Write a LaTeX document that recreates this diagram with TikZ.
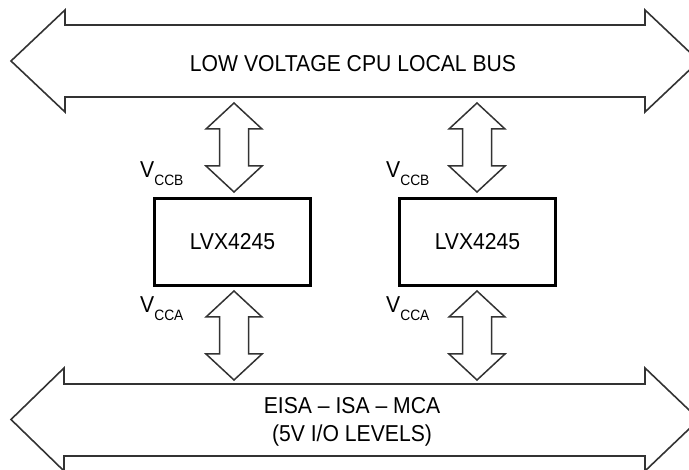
\documentclass[tikz,border=0pt]{standalone}
\usepackage{fontspec}
\setmainfont{Liberation Sans}[FakeStretch=0.92]
\begin{document}
\begin{tikzpicture}[x=1pt,y=-1pt,
  busline/.style={draw=black!80,line width=1.6pt,line join=miter},
  chip/.style={draw=black,line width=3pt,minimum width=156pt,minimum height=87pt,inner sep=0pt,font=\fontsize{23}{23}\selectfont},
  bustext/.style={inner sep=0pt,align=center,font=\fontsize{23}{28}\selectfont},
  vlabel/.style={inner sep=0pt,anchor=base west,font=\fontsize{23}{23}\selectfont},
  pics/dbl/.style={code={
    \draw[busline,line width=1.5pt] (0,0) -- (28,26) -- (14.5,26) -- (14.5,63) -- (28,63) -- (0,89)
      -- (-28,63) -- (-14.5,63) -- (-14.5,26) -- (-28,26) -- cycle;}}
]
\useasboundingbox (0,0) rectangle (689,470);
% top bus
\draw[busline] (11,61) -- (65,10) -- (65,25) -- (645,25) -- (645,10) -- (699,61)
  -- (645,112) -- (645,97) -- (65,97) -- (65,112) -- cycle;
\node[bustext] (topbus) at (353,64) {LOW VOLTAGE CPU LOCAL BUS};
% bottom bus
\draw[busline] (11,419.5) -- (64,368) -- (64,384) -- (645,384) -- (645,368) -- (699,419.5)
  -- (645,471) -- (645,456) -- (64,456) -- (64,471) -- cycle;
\node[bustext] (botbus) at (352,422) {EISA – ISA – MCA\\(5V I/O LEVELS)};
% chips
\node[chip] (box1) at (232.5,242) {LVX4245};
\node[chip] (box2) at (477.5,242) {LVX4245};
% small double arrows
\pic at (234,103) {dbl};
\pic at (234,291) {dbl};
\pic at (477,103) {dbl};
\pic at (477,291) {dbl};
% labels
\node[vlabel] (vb1) at (140,178) {V\raisebox{-8pt}{\fontsize{15}{15}\selectfont CCB}};
\node[vlabel] (va1) at (140,313) {V\raisebox{-8pt}{\fontsize{15}{15}\selectfont CCA}};
\node[vlabel] (vb2) at (386,178) {V\raisebox{-8pt}{\fontsize{15}{15}\selectfont CCB}};
\node[vlabel] (va2) at (386,313) {V\raisebox{-8pt}{\fontsize{15}{15}\selectfont CCA}};
\end{tikzpicture}
\end{document}
